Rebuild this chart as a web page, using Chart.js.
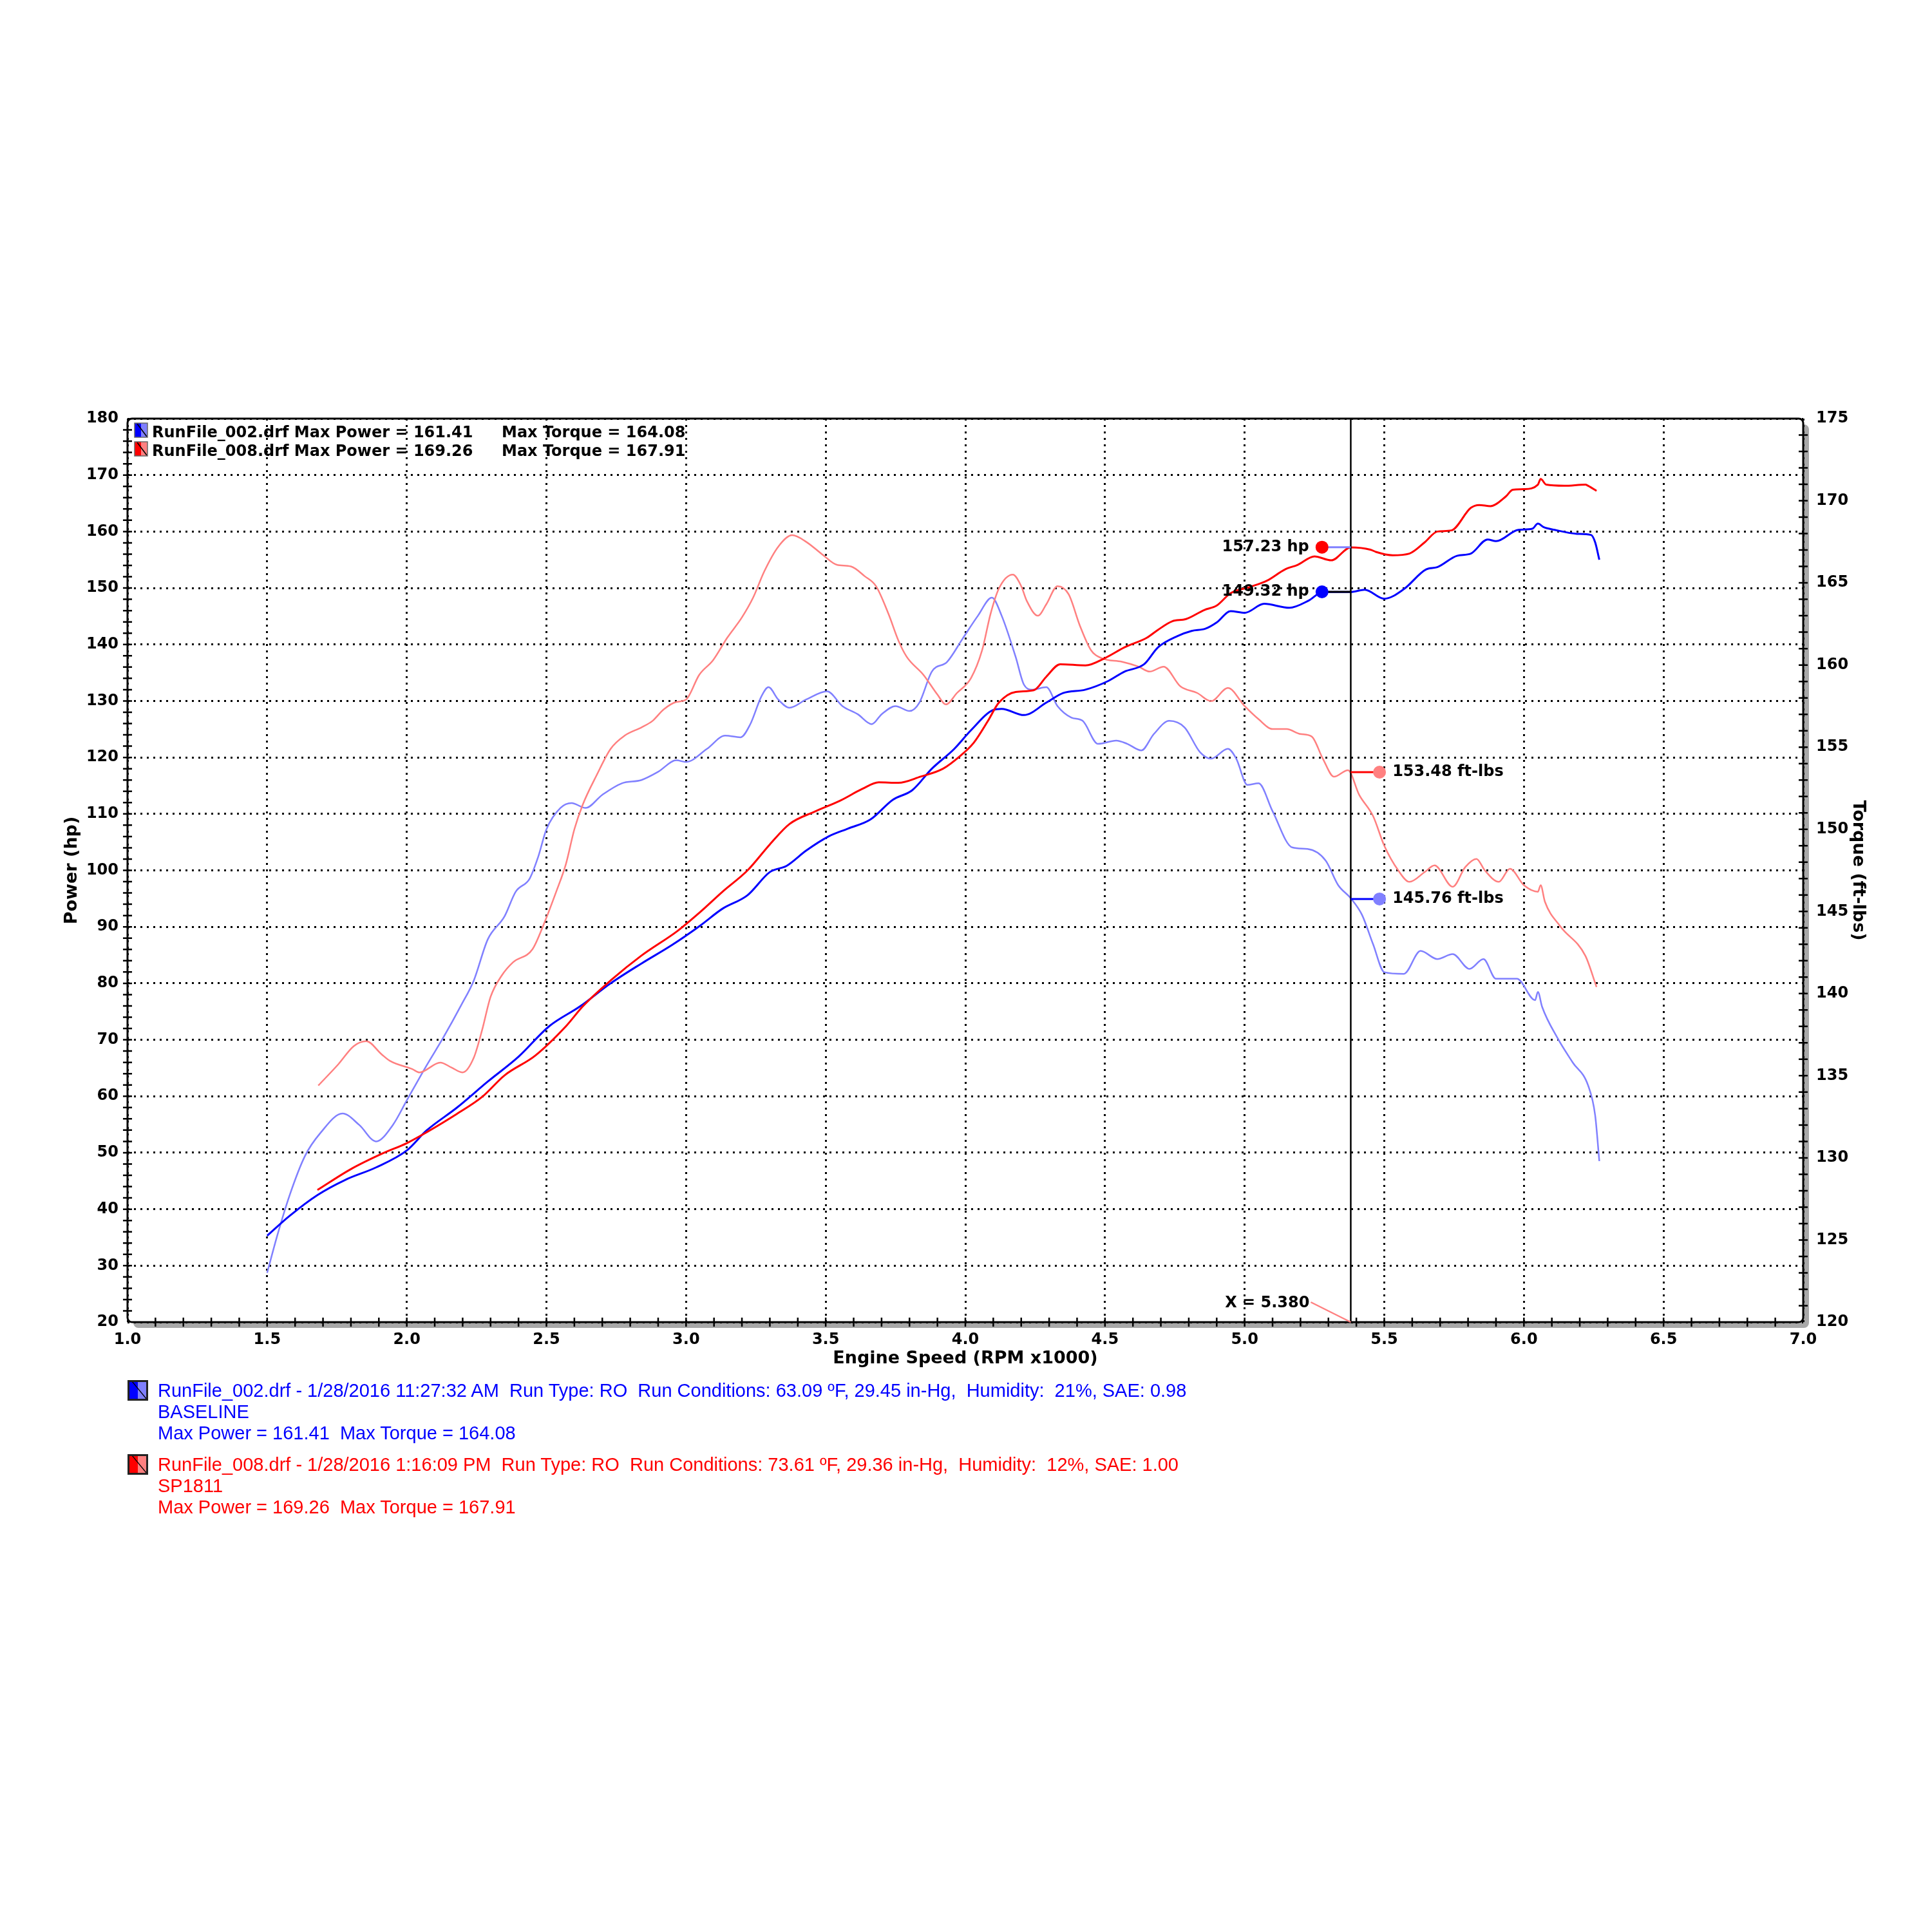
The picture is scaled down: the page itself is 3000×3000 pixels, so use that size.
<!DOCTYPE html>
<html>
<head>
<meta charset="utf-8">
<title>Dyno comparison</title>
<script src="https://cdn.jsdelivr.net/npm/chart.js@4.4.1/dist/chart.umd.min.js"></script>
<style>
  html, body { margin: 0; padding: 0; background: #fff; }
  #wrap { position: relative; width: 3000px; height: 3000px; }
  #dyno { position: absolute; left: 0; top: 0; }
  .runInfo { position: absolute; left: 198px; font-family: "Liberation Sans", Arial, sans-serif; font-size: 29px; line-height: 33px; }
  .runInfo svg { position: absolute; left: 0; top: 0; }
  .runInfo .lines { margin-left: 47px; white-space: pre; }
</style>
</head>
<body>
<div id="wrap">
  <canvas id="dyno" width="3000" height="3000"></canvas>
  <div id="runList"></div>
</div>
<script>
// axis ranges
const rpmMin = 1.0, rpmMax = 7.0, rpmStep = 0.5;
const powerMin = 20, powerMax = 180, powerStep = 10;
const torqueMin = 120, torqueMax = 175, torqueStep = 5;

// RunFile_002 (baseline) power, hp
const rpmBaseHp = [1.50, 1.58, 1.68, 1.78, 1.89, 2.00, 2.07, 2.18, 2.29, 2.40,
    2.51, 2.62, 2.73, 2.84, 2.95, 3.05, 3.13, 3.22, 3.30, 3.36,
    3.43, 3.51, 3.58, 3.66, 3.74, 3.81, 3.88, 3.96, 4.02, 4.10,
    4.13, 4.21, 4.29, 4.35, 4.43, 4.51, 4.57, 4.64, 4.69, 4.76,
    4.81, 4.86, 4.90, 4.95, 5.00, 5.07, 5.16, 5.23, 5.28, 5.38,
    5.43, 5.50, 5.57, 5.65, 5.69, 5.76, 5.81, 5.87, 5.90, 5.98,
    6.03, 6.05, 6.07, 6.11, 6.19, 6.24, 6.255, 6.27];
const baseHp = [35.3, 38.8, 42.5, 45.2, 47.4, 50.4, 53.9, 58.0, 62.6, 67.0,
    72.4, 75.9, 80.0, 83.5, 86.8, 90.2, 93.2, 95.6, 99.7, 100.8,
    103.5, 106.0, 107.4, 109.0, 112.5, 114.2, 118.0, 121.5, 124.8, 128.4,
    128.6, 127.5, 129.7, 131.4, 132.0, 133.5, 135.2, 136.5, 139.5, 141.5,
    142.4, 142.8, 143.9, 145.9, 145.6, 147.2, 146.5, 147.8, 149.3, 149.3,
    149.7, 148.1, 149.8, 153.3, 153.7, 155.7, 156.1, 158.6, 158.3, 160.3,
    160.5, 161.4, 160.8, 160.3, 159.6, 159.4, 158.1, 155.0];

// RunFile_008 (SP1811) power, hp
const rpmModHp = [1.68, 1.80, 1.91, 2.00, 2.07, 2.18, 2.27, 2.35, 2.46, 2.57,
    2.63, 2.73, 2.84, 2.97, 3.05, 3.13, 3.22, 3.30, 3.37, 3.46,
    3.55, 3.63, 3.69, 3.76, 3.84, 3.92, 3.98, 4.03, 4.08, 4.12,
    4.18, 4.245, 4.29, 4.34, 4.43, 4.50, 4.57, 4.65, 4.69, 4.74,
    4.79, 4.855, 4.90, 4.95, 5.02, 5.08, 5.145, 5.19, 5.25, 5.31,
    5.38, 5.45, 5.47, 5.53, 5.59, 5.645, 5.69, 5.74, 5.81, 5.84,
    5.88, 5.935, 5.96, 6.00, 6.05, 6.06, 6.08, 6.145, 6.22, 6.23, 6.26];
const modHp = [43.4, 47.1, 49.8, 51.7, 53.6, 56.9, 59.9, 63.7, 67.2, 72.4,
    75.9, 80.5, 84.9, 89.3, 92.6, 96.2, 100.0, 104.6, 108.2, 110.4,
    112.3, 114.4, 115.6, 115.5, 116.6, 118.0, 120.2, 122.6, 126.4, 129.7,
    131.6, 131.9, 134.3, 136.5, 136.3, 137.6, 139.5, 141.2, 142.6, 144.1,
    144.5, 146.1, 146.9, 149.1, 150.2, 151.3, 153.3, 154.1, 155.6, 154.9,
    157.2, 156.8, 156.4, 155.8, 156.1, 158.1, 160.0, 160.2, 164.2, 164.7,
    164.5, 166.2, 167.4, 167.5, 168.3, 169.3, 168.3, 168.1, 168.3, 168.1, 167.2];

// RunFile_002 torque, ft-lbs
const rpmBaseTq = [1.50, 1.535, 1.58, 1.635, 1.69, 1.77, 1.83, 1.89, 1.95, 2.00,
    2.07, 2.13, 2.195, 2.24, 2.29, 2.35, 2.39, 2.44, 2.47, 2.50,
    2.55, 2.59, 2.64, 2.70, 2.77, 2.84, 2.90, 2.965, 3.00, 3.075,
    3.14, 3.195, 3.23, 3.27, 3.295, 3.33, 3.37, 3.43, 3.505, 3.56,
    3.615, 3.665, 3.70, 3.75, 3.80, 3.835, 3.88, 3.935, 3.99, 4.045,
    4.095, 4.13, 4.18, 4.21, 4.24, 4.29, 4.33, 4.38, 4.42, 4.475,
    4.54, 4.58, 4.63, 4.675, 4.73, 4.785, 4.84, 4.88, 4.94, 4.97,
    5.01, 5.05, 5.10, 5.17, 5.225, 5.29, 5.335, 5.38, 5.42, 5.46,
    5.50, 5.57, 5.63, 5.69, 5.745, 5.805, 5.855, 5.90, 5.975, 6.04,
    6.05, 6.065, 6.12, 6.175, 6.23, 6.255, 6.27];
const baseTq = [123.0, 125.2, 127.7, 130.1, 131.5, 132.7, 132.0, 131.0, 132.0, 133.5,
    135.6, 137.3, 139.3, 140.8, 143.3, 144.7, 146.2, 147.0, 148.3, 150.0,
    151.3, 151.6, 151.3, 152.1, 152.8, 153.0, 153.5, 154.2, 154.1, 154.9,
    155.7, 155.6, 156.4, 158.1, 158.65, 157.9, 157.4, 157.9, 158.4, 157.5,
    157.0, 156.4, 157.0, 157.5, 157.2, 157.7, 159.6, 160.2, 161.6, 163.0,
    164.1, 163.0, 160.5, 158.8, 158.5, 158.65, 157.5, 156.8, 156.6, 155.2,
    155.4, 155.2, 154.8, 155.8, 156.6, 156.2, 154.7, 154.3, 154.9, 154.3,
    152.7, 152.8, 151.1, 148.9, 148.8, 148.1, 146.6, 145.8, 144.8, 143.0,
    141.3, 141.2, 142.6, 142.1, 142.4, 141.5, 142.1, 140.9, 140.9, 139.6,
    140.1, 139.2, 137.3, 135.8, 134.4, 132.6, 129.8];

// RunFile_008 torque, ft-lbs
const rpmModTq = [1.683, 1.755, 1.81, 1.855, 1.91, 1.94, 2.02, 2.045, 2.12, 2.16,
    2.20, 2.24, 2.27, 2.30, 2.34, 2.38, 2.45, 2.49, 2.535, 2.57,
    2.60, 2.63, 2.68, 2.73, 2.78, 2.84, 2.88, 2.92, 2.965, 3.00,
    3.047, 3.097, 3.147, 3.20, 3.24, 3.28, 3.33, 3.38, 3.43, 3.49,
    3.54, 3.59, 3.64, 3.68, 3.725, 3.76, 3.79, 3.85, 3.90, 3.93,
    3.97, 4.02, 4.06, 4.09, 4.12, 4.17, 4.20, 4.22, 4.26, 4.29,
    4.33, 4.37, 4.41, 4.45, 4.49, 4.56, 4.62, 4.66, 4.71, 4.77,
    4.83, 4.88, 4.94, 5.00, 5.05, 5.10, 5.15, 5.20, 5.24, 5.28,
    5.32, 5.37, 5.41, 5.46, 5.50, 5.55, 5.59, 5.645, 5.68, 5.745,
    5.79, 5.83, 5.86, 5.91, 5.95, 6.00, 6.05, 6.06, 6.075, 6.13,
    6.22, 6.26];
const modTq = [134.4, 135.7, 136.8, 137.1, 136.3, 135.9, 135.4, 135.2, 135.8, 135.5,
    135.2, 136.1, 137.8, 139.8, 141.1, 141.9, 142.7, 144.2, 146.2, 147.9,
    150.0, 151.5, 153.3, 154.9, 155.7, 156.2, 156.6, 157.3, 157.75, 157.9,
    159.4, 160.3, 161.65, 162.9, 164.1, 165.7, 167.2, 167.9, 167.5, 166.7,
    166.1, 166.0, 165.4, 164.8, 163.1, 161.5, 160.5, 159.4, 158.2, 157.6,
    158.3, 159.2, 160.9, 163.1, 164.65, 165.5, 164.8, 163.9, 163.0, 163.7,
    164.8, 164.3, 162.4, 160.9, 160.4, 160.2, 159.9, 159.6, 159.9, 158.7,
    158.3, 157.8, 158.6, 157.5, 156.7, 156.1, 156.1, 155.8, 155.65, 154.3,
    153.2, 153.6, 152.1, 150.8, 149.0, 147.5, 146.8, 147.4, 147.8, 146.5,
    147.7, 148.2, 147.5, 146.8, 147.6, 146.6, 146.2, 146.6, 145.6, 144.1,
    142.3, 140.4];

// cursor readout
const cursorRpm = 5.380;
const cursorHp = [157.23, 149.32];     // 008, 002
const cursorTq = [153.48, 145.76];     // 008, 002

// run summary
const runFiles = ['RunFile_002.drf', 'RunFile_008.drf'];
const runNames = ['BASELINE', 'SP1811'];
const runStamps = ['1/28/2016 11:27:32 AM', '1/28/2016 1:16:09 PM'];
const runConditions = ['63.09 ºF, 29.45 in-Hg,  Humidity:  21%, SAE: 0.98',
                       '73.61 ºF, 29.36 in-Hg,  Humidity:  12%, SAE: 1.00'];
const maxPower = [161.41, 169.26];
const maxTorque = [164.08, 167.91];

const darkColors = ['#0000ff', '#ff0000'];
const lightColors = ['#8080ff', '#ff8080'];

const toPoints = (xs, ys) => xs.map((x, i) => ({x: x, y: ys[i]}));

function drawSwatch(ctx, x, y, w, h, dark, light, edge, edgeWidth) {
    ctx.fillStyle = light;
    ctx.fillRect(x, y, w, h);
    ctx.fillStyle = dark;
    ctx.fillRect(x, y, w / 2, h);
    ctx.strokeStyle = '#000';
    ctx.lineWidth = 1.5;
    ctx.beginPath();
    ctx.moveTo(x + w * 0.2, y + 1);
    ctx.lineTo(x + w - 1, y + h - 1);
    ctx.stroke();
    ctx.strokeStyle = edge;
    ctx.lineWidth = edgeWidth;
    ctx.strokeRect(x, y, w, h);
}

const dynoPlugin = {
    id: 'dyno',
    beforeDraw(chart) {
        const {ctx, chartArea: a} = chart;
        ctx.save();
        // drop shadow and white plot area
        ctx.fillStyle = '#a8a8a8';
        ctx.beginPath();
        ctx.roundRect(a.left + 9, a.top + 9, a.width, a.height, 8);
        ctx.fill();
        ctx.fillStyle = '#fff';
        ctx.fillRect(a.left, a.top, a.width, a.height);
        ctx.restore();
    },
    afterDraw(chart) {
        const {ctx, chartArea: a} = chart;
        const xs = chart.scales.x, yp = chart.scales.yPow, yt = chart.scales.yTq;
        ctx.save();

        // frame
        ctx.strokeStyle = '#000';
        ctx.lineWidth = 3;
        ctx.beginPath();
        ctx.roundRect(a.left, a.top, a.width, a.height, 7);
        ctx.stroke();

        // minor ticks crossing the axes
        ctx.lineWidth = 2.5;
        ctx.beginPath();
        for (let v = 11; v < 70; v++) {
            const px = xs.getPixelForValue(v / 10);
            ctx.moveTo(px, a.bottom - 7); ctx.lineTo(px, a.bottom + 7);
        }
        for (let v = powerMin + 2; v < powerMax; v += 2) {
            const py = yp.getPixelForValue(v);
            ctx.moveTo(a.left - 7, py); ctx.lineTo(a.left + 7, py);
        }
        for (let v = torqueMin + 1; v < torqueMax; v++) {
            const py = yt.getPixelForValue(v);
            ctx.moveTo(a.right - 7, py); ctx.lineTo(a.right + 7, py);
        }
        ctx.stroke();

        // cursor
        const cx = xs.getPixelForValue(cursorRpm);
        ctx.lineWidth = 2.5;
        ctx.beginPath();
        ctx.moveTo(cx, a.top); ctx.lineTo(cx, a.bottom);
        ctx.stroke();

        ctx.font = 'bold 24px "DejaVu Sans", Verdana, sans-serif';
        ctx.textBaseline = 'middle';

        // readouts at the cursor
        const readouts = [
            {v: cursorHp[0], scale: yp, side: -1, dot: '#ff0000', link: '#8080ff', unit: ' hp'},
            {v: cursorHp[1], scale: yp, side: -1, dot: '#0000ff', link: '#000000', unit: ' hp'},
            {v: cursorTq[0], scale: yt, side: 1, dot: '#ff8080', link: '#ff0000', unit: ' ft-lbs'},
            {v: cursorTq[1], scale: yt, side: 1, dot: '#8080ff', link: '#0000ff', unit: ' ft-lbs'}
        ];
        readouts.forEach(r => {
            const py = r.scale.getPixelForValue(r.v);
            const dx = xs.getPixelForValue(cursorRpm + r.side * 0.103);
            ctx.strokeStyle = r.link;
            ctx.lineWidth = 3;
            ctx.beginPath();
            ctx.moveTo(cx, py); ctx.lineTo(dx, py);
            ctx.stroke();
            ctx.fillStyle = r.dot;
            ctx.beginPath();
            ctx.arc(dx, py, 10, 0, Math.PI * 2);
            ctx.fill();
            ctx.fillStyle = '#000';
            ctx.textAlign = r.side < 0 ? 'right' : 'left';
            ctx.fillText(r.v.toFixed(2) + r.unit, dx + r.side * 20, py);
        });

        // X = label
        ctx.strokeStyle = '#ff8080';
        ctx.lineWidth = 2.5;
        ctx.beginPath();
        ctx.moveTo(cx - 62, a.bottom - 31); ctx.lineTo(cx, a.bottom);
        ctx.stroke();
        ctx.fillStyle = '#000';
        ctx.textAlign = 'right';
        ctx.fillText('X = ' + cursorRpm.toFixed(3), cx - 64, a.bottom - 29);

        // in-plot legend
        ctx.textAlign = 'left';
        for (let i = 0; i < runFiles.length; i++) {
            const y = a.top + 23 + i * 29;
            drawSwatch(ctx, a.left + 11, y - 16, 20, 22, darkColors[i], lightColors[i], '#666', 1.5);
            ctx.fillStyle = '#000';
            ctx.fillText(runFiles[i] + ' Max Power = ' + maxPower[i].toFixed(2), a.left + 38, y);
            ctx.fillText('Max Torque = ' + maxTorque[i].toFixed(2), a.left + 581, y);
        }
        ctx.restore();
    }
};

Chart.defaults.font.family = '"DejaVu Sans", Verdana, sans-serif';
Chart.defaults.color = '#000';

const tickFont = {size: 24, weight: 'bold'};
const titleFont = {size: 27, weight: 'bold'};
const gridOpts = {color: '#000', lineWidth: 3, drawTicks: false};
const borderOpts = {display: false, dash: [3, 7]};

const lineStyle = {pointRadius: 0, fill: false, cubicInterpolationMode: 'monotone'};

const ctx = document.getElementById('dyno');
const myChart = new Chart(ctx, {
    type: 'line',
    data: {
        datasets: [
            Object.assign({label: 'RunFile_008 Power', data: toPoints(rpmModHp, modHp), yAxisID: 'yPow',
                borderColor: darkColors[1], borderWidth: 3}, lineStyle),
            Object.assign({label: 'RunFile_002 Power', data: toPoints(rpmBaseHp, baseHp), yAxisID: 'yPow',
                borderColor: darkColors[0], borderWidth: 3}, lineStyle),
            Object.assign({label: 'RunFile_008 Torque', data: toPoints(rpmModTq, modTq), yAxisID: 'yTq',
                borderColor: lightColors[1], borderWidth: 2.5}, lineStyle),
            Object.assign({label: 'RunFile_002 Torque', data: toPoints(rpmBaseTq, baseTq), yAxisID: 'yTq',
                borderColor: lightColors[0], borderWidth: 2.5}, lineStyle)
        ]
    },
    options: {
        responsive: false,
        animation: false,
        devicePixelRatio: 1,
        layout: {padding: {top: 650, bottom: 872, left: 0, right: 0}},
        plugins: {legend: {display: false}, tooltip: {enabled: false}},
        scales: {
            x: {
                type: 'linear', position: 'bottom', min: rpmMin, max: rpmMax,
                afterFit: s => { s.height = 75; },
                ticks: {stepSize: rpmStep, autoSkip: false, maxRotation: 0, padding: 13, font: tickFont,
                    callback: v => Number(v).toFixed(1)},
                grid: gridOpts, border: borderOpts,
                title: {display: true, text: 'Engine Speed (RPM x1000)', font: titleFont, padding: {top: 0, bottom: 2}}
            },
            yPow: {
                type: 'linear', position: 'left', min: powerMin, max: powerMax,
                afterFit: s => { s.width = 198; },
                ticks: {stepSize: powerStep, autoSkip: false, padding: 14, font: tickFont},
                grid: gridOpts, border: borderOpts,
                title: {display: true, text: 'Power (hp)', font: titleFont, padding: {top: 96, bottom: 0}}
            },
            yTq: {
                type: 'linear', position: 'right', min: torqueMin, max: torqueMax,
                afterFit: s => { s.width = 200; },
                ticks: {stepSize: torqueStep, autoSkip: false, padding: 20, font: tickFont},
                grid: {drawOnChartArea: false, drawTicks: false}, border: {display: false},
                title: {display: true, text: 'Torque (ft-lbs)', font: titleFont, padding: {top: 99, bottom: 0}}
            }
        }
    },
    plugins: [dynoPlugin]
});

// run summary under the chart
const runList = document.getElementById('runList');
const blockTops = [2143, 2258];
for (let i = 0; i < runFiles.length; i++) {
    const block = document.createElement('div');
    block.className = 'runInfo';
    block.style.top = blockTops[i] + 'px';
    block.style.color = darkColors[i];
    block.innerHTML =
        '<svg width="32" height="32" viewBox="0 0 32 32">' +
        '<rect x="1.5" y="1.5" width="29" height="29" fill="' + lightColors[i] + '"/>' +
        '<rect x="1.5" y="1.5" width="14.5" height="29" fill="' + darkColors[i] + '"/>' +
        '<line x1="7" y1="2" x2="30" y2="30" stroke="#000" stroke-width="1.2"/>' +
        '<rect x="1.5" y="1.5" width="29" height="29" fill="none" stroke="#222" stroke-width="3"/></svg>';
    const lines = document.createElement('div');
    lines.className = 'lines';
    lines.textContent =
        runFiles[i] + ' - ' + runStamps[i] + '  Run Type: RO  Run Conditions: ' + runConditions[i] + '\n' +
        runNames[i] + '\n' +
        'Max Power = ' + maxPower[i].toFixed(2) + '  Max Torque = ' + maxTorque[i].toFixed(2);
    block.appendChild(lines);
    runList.appendChild(block);
}
</script>
</body>
</html>
